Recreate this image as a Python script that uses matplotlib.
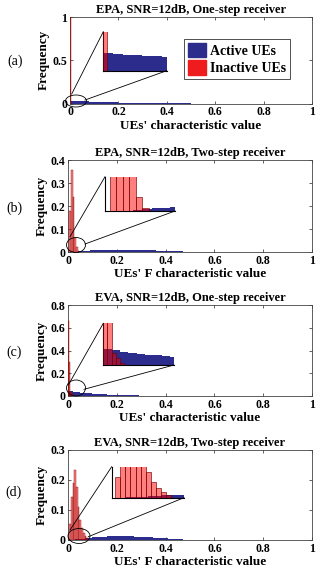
import numpy as np
import matplotlib
matplotlib.use("Agg")
import matplotlib.pyplot as plt
from matplotlib.patches import Ellipse, Patch
from matplotlib.lines import Line2D

plt.rcParams['font.family'] = ['Liberation Serif', 'DejaVu Serif']
plt.rcParams['font.weight'] = 'bold'

# ---------------- data ----------------
titles = ["EPA, SNR=12dB, One-step receiver",
          "EPA, SNR=12dB, Two-step receiver",
          "EVA, SNR=12dB, One-step receiver",
          "EVA, SNR=12dB, Two-step receiver"]
xlabels = ["UEs' characteristic value", "UEs' F characteristic value",
           "UEs' characteristic value", "UEs' F characteristic value"]
panel_tags = ["(a)", "(b)", "(c)", "(d)"]
xticks = [0, 0.2, 0.4, 0.6, 0.8, 1]
xtick_labels = ["0", "0.2", "0.4", "0.6", "0.8", "1"]
yticks_a = [0, 0.5, 1]
yticks_b = [0, 0.1, 0.2, 0.3, 0.4]
yticks_c = [0, 0.2, 0.4, 0.6, 0.8]
yticks_d = [0, 0.1, 0.2, 0.3]

# (a) EPA one-step
active_a_start, active_a_width = 0.0, 0.01
active_a = [0.031, 0.030, 0.029, 0.028, 0.027, 0.026, 0.025, 0.024, 0.023, 0.022,
            0.021, 0.020, 0.019, 0.018, 0.017, 0.016, 0.015, 0.014, 0.013, 0.012,
            0.011, 0.010, 0.0095, 0.009, 0.0085, 0.008, 0.007, 0.0065, 0.006, 0.0055,
            0.005, 0.0045, 0.004, 0.0035, 0.003, 0.003, 0.0025, 0.002, 0.002, 0.0015,
            0.0015, 0.001, 0.001, 0.001, 0.0008, 0.0006, 0.0005, 0.0004, 0.0003, 0.0002]
inactive_a_start, inactive_a_width = 0.0, 0.004
inactive_a = [1.0]

# (b) EPA two-step
active_b_start, active_b_width = 0.03, 0.01
active_b = [0.002, 0.003, 0.004, 0.005, 0.006, 0.0065, 0.007, 0.0075, 0.008, 0.0085,
            0.0088, 0.009, 0.0092, 0.0094, 0.0095, 0.0096, 0.0097, 0.0097, 0.0098, 0.0098,
            0.0097, 0.0096, 0.0095, 0.0093, 0.0091, 0.0089, 0.0086, 0.0083, 0.008, 0.0077,
            0.0073, 0.007, 0.0066, 0.0062, 0.0058, 0.0054, 0.005, 0.0046, 0.0042, 0.0038,
            0.0034, 0.003, 0.0027, 0.0024, 0.0021, 0.0018, 0.0015, 0.0013, 0.0011, 0.0009,
            0.0007, 0.0006, 0.0005, 0.0004, 0.0003, 0.0002, 0.0002, 0.0001]
inactive_b_start, inactive_b_width = 0.005, 0.007
inactive_b = [0.18, 0.355, 0.24, 0.06, 0.02, 0.005]

# (c) EVA one-step
active_c_start, active_c_width = 0.0, 0.01
active_c = [0.045, 0.042, 0.038, 0.035, 0.032, 0.030, 0.028, 0.026, 0.024, 0.022,
            0.020, 0.019, 0.018, 0.016, 0.015, 0.014, 0.013, 0.012, 0.011, 0.010,
            0.009, 0.0085, 0.008, 0.007, 0.0065, 0.006, 0.0055, 0.005, 0.0045, 0.004,
            0.0035, 0.003, 0.003, 0.0025, 0.002, 0.002, 0.0015, 0.0015, 0.001, 0.001,
            0.001, 0.0008, 0.0006, 0.0005, 0.0004, 0.0003]
inactive_c_start, inactive_c_width = 0.0, 0.005
inactive_c = [0.656, 0.30, 0.035, 0.02, 0.006]

# (d) EVA two-step
active_d_start, active_d_width = 0.02, 0.01
active_d = [0.001, 0.002, 0.003, 0.004, 0.005, 0.006, 0.007, 0.008, 0.0088, 0.0095,
            0.010, 0.0105, 0.011, 0.0115, 0.012, 0.0123, 0.0126, 0.0128, 0.013, 0.013,
            0.013, 0.0128, 0.0126, 0.0123, 0.012, 0.0116, 0.0112, 0.0108, 0.0104, 0.01,
            0.0095, 0.009, 0.0085, 0.008, 0.0075, 0.007, 0.0064, 0.0058, 0.0052, 0.0046,
            0.004, 0.0035, 0.003, 0.0025, 0.002, 0.0016, 0.0012, 0.0009, 0.0006, 0.0004,
            0.0003, 0.0002]
inactive_d_start, inactive_d_width = 0.005, 0.007
inactive_d = [0.054, 0.143, 0.19, 0.234, 0.177, 0.11, 0.066, 0.04, 0.025, 0.015, 0.008]

panels = [
    dict(active=active_a, a0=active_a_start, aw=active_a_width,
         inactive=inactive_a, i0=inactive_a_start, iw=inactive_a_width,
         ylim=1, yticks=yticks_a, inset_x=0.065, inset_y=0.07),
    dict(active=active_b, a0=active_b_start, aw=active_b_width,
         inactive=inactive_b, i0=inactive_b_start, iw=inactive_b_width,
         ylim=0.4, yticks=yticks_b, inset_x=0.075, inset_y=0.05),
    dict(active=active_c, a0=active_c_start, aw=active_c_width,
         inactive=inactive_c, i0=inactive_c_start, iw=inactive_c_width,
         ylim=0.8, yticks=yticks_c, inset_x=0.085, inset_y=0.12),
    dict(active=active_d, a0=active_d_start, aw=active_d_width,
         inactive=inactive_d, i0=inactive_d_start, iw=inactive_d_width,
         ylim=0.3, yticks=yticks_d, inset_x=0.1, inset_y=0.08),
]

# ---------------- layout (pixels) ----------------
W, H = 316, 568
main_rects = [(70, 17, 312, 103.5), (68, 160, 312, 252),
              (68, 305, 312, 396), (68, 450, 312, 540)]
inset_rects = [(103.3, 31.7, 166.7, 70.7), (105, 176.7, 175, 211),
               (103.3, 323.3, 174, 365), (111.7, 466.7, 184, 497.7)]
ellipses = [(76, 101, 21, 12), (76, 245, 19, 15), (76, 388, 19, 16), (79, 536, 22, 15)]
connectors = [[(71.7, 94, 103.3, 31.7), (85, 100, 166.7, 70.7)],
              [(70, 236.7, 105, 176.7), (85, 244, 175, 211)],
              [(68.3, 385, 103.3, 323.3), (84, 389.3, 174, 365)],
              [(70, 530, 111.7, 466.7), (88.3, 536.7, 184, 497.7)]]
tag_pos = [(15, 61), (14, 208), (14, 352), (14, 492)]

BLUE = '#2B2C8C'
RED_FACE = (1.0, 0.0, 0.0, 0.5)
RED_EDGE = (0.45, 0.0, 0.0, 0.9)
LEG_RED = '#EE1C1C'


def rect(l, t, r, b):
    return [l / W, 1 - b / H, (r - l) / W, (b - t) / H]


def fx(x):
    return x / W


def fy(y):
    return 1 - y / H


fig = plt.figure(figsize=(W / 100, H / 100), dpi=100)


def draw_bars(ax, p, lw=0.3):
    n = len(p['active'])
    edges = p['a0'] + p['aw'] * np.arange(n + 1)
    ax.stairs(p['active'], edges, fill=True, color=BLUE, linewidth=0, zorder=2)
    xi = p['i0'] + p['iw'] * np.arange(len(p['inactive']))
    ax.bar(xi, p['inactive'], width=p['iw'], align='edge', facecolor=RED_FACE,
           edgecolor=RED_EDGE, linewidth=lw, zorder=3)


for k, p in enumerate(panels):
    ax = fig.add_axes(rect(*main_rects[k]))
    draw_bars(ax, p)
    ax.set_xlim(0, 1)
    ax.set_ylim(0, p['ylim'])
    ax.set_xticks(xticks)
    ax.set_xticklabels(xtick_labels)
    ax.set_yticks(p['yticks'])
    ax.set_yticklabels([f"{v:g}" for v in p['yticks']])
    ax.tick_params(direction='in', top=True, right=True, length=2, width=0.5,
                   labelsize=8.5, pad=2, colors='#222222', labelcolor='black')
    for s in ax.spines.values():
        s.set_linewidth(0.6)
        s.set_color('#444444')
    ax.set_title(titles[k], fontsize=9, fontweight='bold', pad=3)
    ax.set_xlabel(xlabels[k], fontsize=9.5, fontweight='bold', labelpad=1)
    ax.set_ylabel('Frequency', fontsize=9.5, fontweight='bold', labelpad=2)
    fig.text(fx(tag_pos[k][0]), fy(tag_pos[k][1]), panel_tags[k], fontsize=10,
             fontweight='normal', ha='center', va='center')

    if k == 0:
        handles = [Patch(facecolor=BLUE, edgecolor=BLUE, label='Active UEs'),
                   Patch(facecolor=LEG_RED, edgecolor=LEG_RED, label='Inactive UEs')]
        leg = ax.legend(handles=handles, loc='upper left',
                        bbox_to_anchor=(0.47, 0.75), fontsize=10, frameon=True,
                        fancybox=False, edgecolor='black', handlelength=1.3,
                        handleheight=1.2, handletextpad=0.3, borderpad=0.3,
                        labelspacing=0.2, borderaxespad=0)
        leg.get_frame().set_linewidth(0.6)

    # zoom ellipse
    cx, cy, ew, eh = ellipses[k]
    fig.add_artist(Ellipse((fx(cx), fy(cy)), ew / W, eh / H, fill=False,
                           edgecolor='black', linewidth=0.6,
                           transform=fig.transFigure, zorder=10))
    for (x1, y1, x2, y2) in connectors[k]:
        fig.add_artist(Line2D([fx(x1), fx(x2)], [fy(y1), fy(y2)], color='black',
                              linewidth=0.6, transform=fig.transFigure, zorder=10))

    # inset
    axi = fig.add_axes(rect(*inset_rects[k]))
    draw_bars(axi, p, lw=0.5)
    axi.set_xlim(0, p['inset_x'])
    axi.set_ylim(0, p['inset_y'])
    axi.set_xticks([])
    axi.set_yticks([])
    axi.patch.set_alpha(0)
    axi.spines['top'].set_visible(False)
    axi.spines['right'].set_visible(False)
    axi.spines['left'].set_linewidth(0.8)
    axi.spines['bottom'].set_linewidth(0.8)

fig.savefig('out.png', dpi=100)
